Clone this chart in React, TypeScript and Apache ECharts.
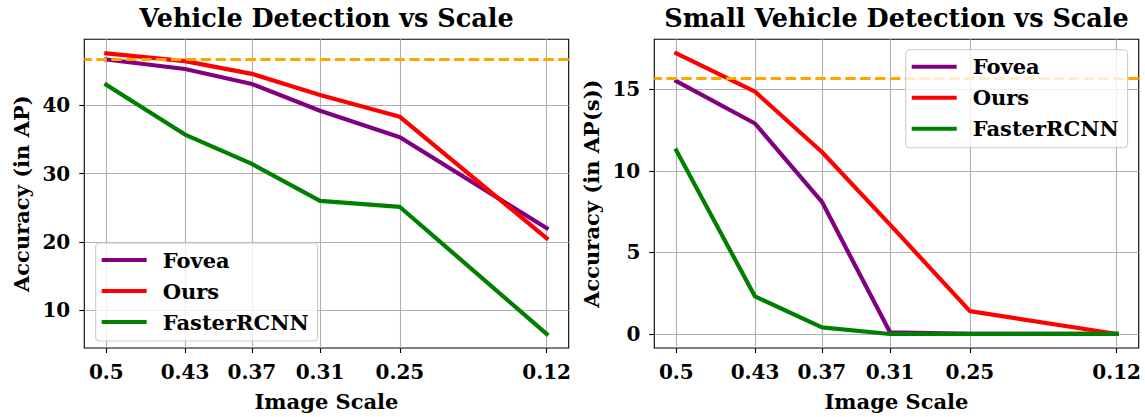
import React, { useEffect, useRef } from "react";
import * as echarts from "echarts";

const scales = [0.5, 0.433, 0.376, 0.318, 0.25, 0.125];
const scaleLabels = ["0.5", "0.43", "0.37", "0.31", "0.25", "0.12"];

const foveaAP = [46.7, 45.3, 43.1, 39.2, 35.3, 22.0];
const oursAP = [47.6, 46.45, 44.6, 41.5, 38.3, 20.5];
const fasterAP = [43.0, 35.7, 31.4, 26.0, 25.1, 6.5];
const baselineAP = 46.7;
const yTicksAP = [10, 20, 30, 40];

const foveaAPs = [15.5, 12.9, 8.1, 0.1, 0, 0];
const oursAPs = [17.2, 14.85, 11.15, 6.7, 1.4, 0];
const fasterAPs = [11.25, 2.3, 0.4, 0, 0, 0];
const baselineAPs = 15.7;
const yTicksAPs = [0, 5, 10, 15];

const seriesNames = ["Fovea", "Ours", "FasterRCNN"];
const seriesColors = ["#800080", "#ff0000", "#008000"];

const FONT = "DejaVu Serif";

function pairs(vals: number[]) {
  return scales.map((s, i) => [s, vals[i]]);
}

export default function App() {
  const ref = useRef<HTMLDivElement>(null);
  useEffect(() => {
    document.body.style.margin = "0";
    const chart = echarts.init(ref.current!, null, { renderer: "svg" });

    const gridW = 484.4;
    const gridH = 313;
    const gridTop = 39.3;
    const lefts = [84.3, 654.3];

    const textBase = { fontFamily: FONT, fontWeight: "bold" as const, color: "#000" };

    const xAxisFor = (gi: number) => ({
      type: "value",
      gridIndex: gi,
      inverse: true,
      min: 0.10625,
      max: 0.51875,
      name: "Image Scale",
      nameLocation: "middle",
      nameGap: 43,
      nameTextStyle: { ...textBase, fontSize: 21, verticalAlign: "top" },
      axisLine: { show: false, onZero: false },
      axisTick: {
        show: true,
        length: 5,
        customValues: scales,
        lineStyle: { color: "#000", width: 1.1 },
      },
      axisLabel: {
        ...textBase,
        fontSize: 20,
        margin: 14,
        customValues: scales,
        formatter: (v: number) => {
          let best = 0;
          scales.forEach((s, i) => {
            if (Math.abs(s - v) < Math.abs(scales[best] - v)) best = i;
          });
          return scaleLabels[best];
        },
      },
      splitLine: { show: true, lineStyle: { color: "#b0b0b0", width: 1.1 } },
    });

    const yAxisFor = (gi: number, min: number, max: number, ticks: number[], name: string) => ({
      type: "value",
      gridIndex: gi,
      min,
      max,
      name,
      nameLocation: "middle",
      nameGap: 52,
      nameTextStyle: { ...textBase, fontSize: 21 },
      axisLine: { show: false, onZero: false },
      axisTick: {
        show: true,
        length: 5,
        customValues: ticks,
        lineStyle: { color: "#000", width: 1.1 },
      },
      axisLabel: { ...textBase, fontSize: 20, margin: 14, customValues: ticks },
      splitLine: { show: true, lineStyle: { color: "#b0b0b0", width: 1.1 } },
    });

    const lineSeries = (gi: number, data: number[][], idx: number, baseline?: number) => {
      const s: any = {
        type: "line",
        name: seriesNames[idx],
        xAxisIndex: gi,
        yAxisIndex: gi,
        data,
        showSymbol: false,
        symbol: "none",
        lineStyle: { color: seriesColors[idx], width: 4.2, cap: "square", join: "round" },
        itemStyle: { color: seriesColors[idx] },
        z: 2 + idx,
      };
      if (baseline !== undefined) {
        s.markLine = {
          silent: true,
          symbol: "none",
          label: { show: false },
          z: 5,
          lineStyle: { color: "#ffa500", width: 2.8, type: [10.4, 4.5], opacity: 1 },
          data: [{ yAxis: baseline }],
        };
      }
      return s;
    };

    const legendFor = (left: number, top: number) => ({
      left,
      top,
      orient: "vertical",
      z: 10,
      data: seriesNames,
      icon: "rect",
      itemWidth: 45,
      itemHeight: 4,
      itemGap: 9,
      padding: [6, 9, 8, 6],
      backgroundColor: "rgba(255,255,255,0.8)",
      borderColor: "#cccccc",
      borderWidth: 1.1,
      borderRadius: 4,
      textStyle: { ...textBase, fontSize: 21, lineHeight: 22, padding: [0, 0, 0, 11] },
      selectedMode: false,
    });

    chart.setOption({
      animation: false,
      backgroundColor: "#ffffff",
      title: [
        {
          text: "Vehicle Detection vs Scale",
          left: lefts[0] + gridW / 2,
          top: 5,
          textAlign: "center",
          padding: 0,
          textStyle: { ...textBase, fontSize: 25.5 },
        },
        {
          text: "Small Vehicle Detection vs Scale",
          left: lefts[1] + gridW / 2,
          top: 5,
          textAlign: "center",
          padding: 0,
          textStyle: { ...textBase, fontSize: 25.5 },
        },
      ],
      legend: [legendFor(95.7, 243), legendFor(905.7, 49.7)],
      grid: lefts.map((l) => ({
        left: l,
        top: gridTop,
        width: gridW,
        height: gridH,
        show: true,
        borderColor: "#000",
        borderWidth: 1.1,
        backgroundColor: "transparent",
        containLabel: false,
      })),
      xAxis: [xAxisFor(0), xAxisFor(1)],
      yAxis: [
        yAxisFor(0, 4.445, 49.655, yTicksAP, "Accuracy (in AP)"),
        yAxisFor(1, -0.86, 18.06, yTicksAPs, "Accuracy (in AP(s))"),
      ],
      series: [
        lineSeries(0, pairs(foveaAP), 0),
        lineSeries(0, pairs(oursAP), 1),
        lineSeries(0, pairs(fasterAP), 2, baselineAP),
        lineSeries(1, pairs(foveaAPs), 0),
        lineSeries(1, pairs(oursAPs), 1),
        lineSeries(1, pairs(fasterAPs), 2, baselineAPs),
      ],
    });

    return () => chart.dispose();
  }, []);

  return <div ref={ref} style={{ width: 1145, height: 417 }} />;
}
